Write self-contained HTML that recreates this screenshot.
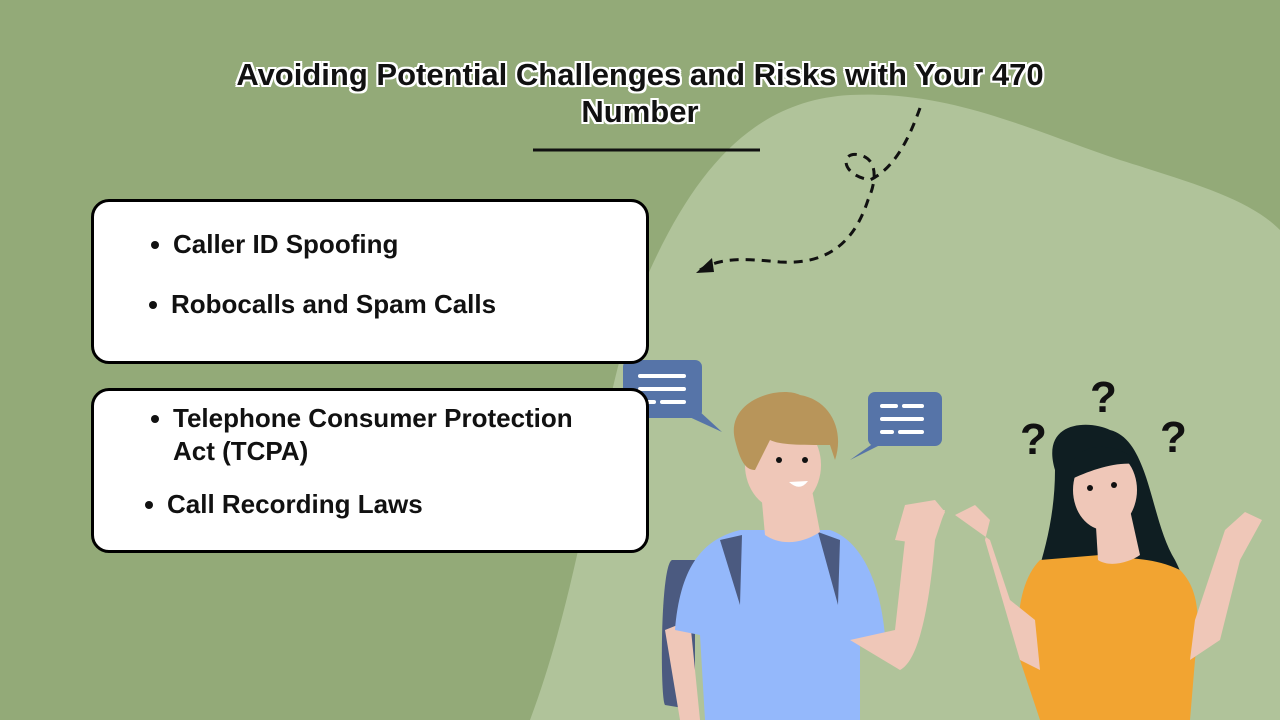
<!DOCTYPE html>
<html><head><meta charset="utf-8"><style>
body{margin:0;width:1280px;height:720px;overflow:hidden;background:#93aa78;font-family:"Liberation Sans",sans-serif}
.t{position:absolute;left:0;width:1280px;text-align:center;font-weight:bold;font-size:31px;color:#111;line-height:37px;text-shadow:-2px -2px 0 #fff,2px -2px 0 #fff,-2px 2px 0 #fff,2px 2px 0 #fff,0 2px 0 #fff,0 -2px 0 #fff,2px 0 0 #fff,-2px 0 0 #fff}
.box{position:absolute;background:#fff;border:3px solid #000;border-radius:18px;box-sizing:border-box}
.b{position:absolute;font-size:26px;font-weight:bold;color:#111;line-height:33px}
.b:before{content:"";position:absolute;left:-22px;top:13px;width:8px;height:8px;border-radius:50%;background:#111}
</style></head><body>
<svg width="1280" height="720" style="position:absolute;left:0;top:0">
<path d="M530 720 C590 560 600 380 650 270 C700 160 760 100 850 95 C950 90 1030 130 1120 160 C1200 185 1250 200 1280 230 L1280 720Z" fill="#b0c39a"/>
<line x1="533" y1="150" x2="760" y2="150" stroke="#111" stroke-width="3"/>
<path d="M920 108 C905 150 890 170 870 180 C840 175 840 150 860 155 C880 160 875 185 868 200 C855 240 830 265 780 262 C740 258 720 258 700 270" fill="none" stroke="#111" stroke-width="3" stroke-dasharray="9 7"/>
<path d="M696 273 L712 258 L714 272Z" fill="#111"/>
<rect x="623" y="360" width="79" height="58" rx="7" fill="#5674a8"/><path d="M685 415 L722 432 L698 410Z" fill="#5674a8"/>
<g stroke="#fff" stroke-width="4" stroke-linecap="round"><line x1="640" y1="376" x2="684" y2="376"/><line x1="640" y1="389" x2="684" y2="389"/><line x1="640" y1="402" x2="654" y2="402"/><line x1="662" y1="402" x2="684" y2="402"/></g>
<rect x="868" y="392" width="74" height="54" rx="7" fill="#5674a8"/><path d="M878 440 L850 460 L890 440Z" fill="#5674a8"/>
<g stroke="#fff" stroke-width="4" stroke-linecap="round"><line x1="882" y1="406" x2="896" y2="406"/><line x1="904" y1="406" x2="922" y2="406"/><line x1="882" y1="419" x2="922" y2="419"/><line x1="882" y1="432" x2="892" y2="432"/><line x1="900" y1="432" x2="922" y2="432"/></g>
<path d="M672 560 C660 565 660 700 665 705 L695 710 L695 560Z" fill="#4b5a80"/>
<path d="M665 630 L680 720 L700 720 L690 620Z" fill="#efc7b8"/>
<path d="M740 530 C700 540 680 570 675 630 L700 635 L705 720 L860 720 L860 640 L885 635 C880 580 860 540 830 530 Z" fill="#94b8fb"/>
<path d="M720 540 L742 535 L740 605Z M818 532 L840 540 L838 605Z" fill="#4b5a80"/>
<path d="M760 480 L765 535 C780 545 800 545 820 532 L812 490Z" fill="#efc7b8"/>
<ellipse cx="783" cy="465" rx="38" ry="45" fill="#efc7b8"/>
<path d="M735 440 C725 400 780 385 800 395 C830 400 845 430 835 460 L830 445 C800 445 780 445 770 440 L755 470 C745 470 740 460 735 440Z" fill="#b8955a"/>
<circle cx="779" cy="460" r="3" fill="#111"/><circle cx="805" cy="460" r="3" fill="#111"/>
<path d="M789 482 Q800 492 808 481Z" fill="#fff"/>
<path d="M850 640 L900 670 C920 660 930 600 935 540 L945 510 L910 510 L905 540 L895 630Z" fill="#efc7b8"/>
<path d="M895 540 L905 505 L935 500 L945 512 L930 545Z" fill="#efc7b8"/>
<path d="M1055 470 C1040 420 1090 420 1110 430 C1150 440 1150 520 1175 560 C1195 600 1200 640 1190 660 L1020 630 C1030 590 1055 540 1055 470Z" fill="#0f1e22"/>
<path d="M1040 560 C1020 580 1015 620 1020 660 L1040 720 L1190 720 L1195 660 C1200 620 1200 590 1180 570 C1150 555 1120 560 1100 555 Z" fill="#f2a431"/>
<path d="M1095 510 L1098 560 C1110 568 1130 562 1140 555 L1130 510Z" fill="#efc7b8"/>
<ellipse cx="1105" cy="490" rx="32" ry="40" fill="#efc7b8"/>
<path d="M1070 470 C1075 440 1120 440 1140 465 C1120 460 1090 470 1070 480Z" fill="#0f1e22"/>
<circle cx="1090" cy="488" r="3" fill="#111"/><circle cx="1114" cy="485" r="3" fill="#111"/>
<path d="M955 515 L975 505 L990 520 L985 540 L1020 660 L1040 670 L1035 620 L1010 600 L990 540Z" fill="#efc7b8"/>
<path d="M1190 660 L1220 640 L1240 560 L1262 520 L1245 512 L1225 530 L1215 560 L1195 620Z" fill="#efc7b8"/>
<g font-family="Liberation Sans,sans-serif" font-weight="bold" font-size="44" fill="#111"><text x="1090" y="412">?</text><text x="1020" y="454">?</text><text x="1160" y="452">?</text></g>
</svg>
<div class="t" style="top:56px">Avoiding Potential Challenges and Risks with Your 470<br>Number</div>
<div class="box" style="left:91px;top:199px;width:558px;height:165px"></div>
<div class="box" style="left:91px;top:388px;width:558px;height:165px"></div>
<div class="b" style="left:173px;top:228px">Caller ID Spoofing</div>
<div class="b" style="left:171px;top:288px">Robocalls and Spam Calls</div>
<div class="b" style="left:173px;top:402px">Telephone Consumer Protection<br>Act (TCPA)</div>
<div class="b" style="left:167px;top:488px">Call Recording Laws</div>
</body></html>
